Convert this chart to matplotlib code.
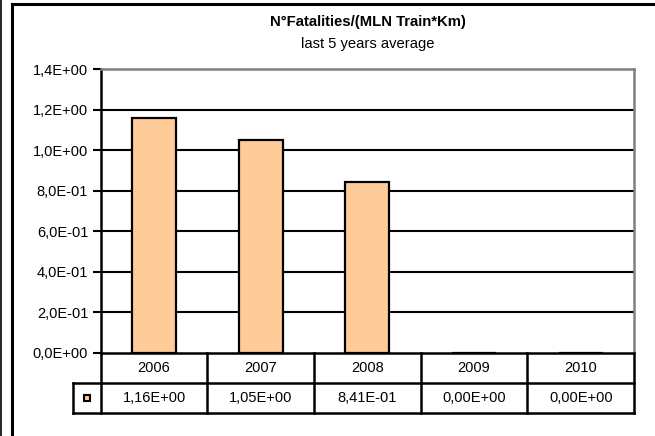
import numpy as np
import matplotlib.pyplot as plt
from matplotlib.lines import Line2D
from matplotlib.patches import Rectangle

plt.rcParams['font.family'] = ['Liberation Sans', 'DejaVu Sans']

years = ['2006', '2007', '2008', '2009', '2010']
values = [1.16, 1.05, 0.841, 0.0, 0.0]
yticks = [0.0, 0.2, 0.4, 0.6, 0.8, 1.0, 1.2, 1.4]

title = 'N°Fatalities/(MLN Train*Km)'
subtitle = 'last 5 years average'

fig = plt.figure(figsize=(6.55, 4.36), dpi=100)
ax = fig.add_axes([0.1537, 0.1904, 0.8143, 0.6513])

x = np.arange(len(years))
ax.bar(x, values, width=0.41, color='#FFCC99', edgecolor='black', linewidth=1.6, zorder=3)

ax.set_xlim(-0.5, len(years) - 0.5)
ax.set_ylim(0, 1.4)
ax.set_yticks(yticks)
ax.set_yticklabels([f'{v:.1E}'.replace('.', ',') for v in yticks], fontsize=10.5)
ax.set_xticks([])
ax.tick_params(axis='y', direction='out', length=6, width=1.5, color='black', pad=3)
for v in yticks[1:-1]:
    ax.axhline(v, color='black', linewidth=1.5, zorder=1)

ax.spines['left'].set_linewidth(1.8)
ax.spines['bottom'].set_linewidth(1.8)
ax.spines['top'].set_color('#808080')
ax.spines['right'].set_color('#808080')
ax.spines['top'].set_linewidth(1.8)
ax.spines['right'].set_linewidth(1.8)

# data table under the plot
row_h = 0.1056
key_x = -0.052
n = len(years)
lw = 1.8
kw = dict(transform=ax.transAxes, color='black', linewidth=lw, clip_on=False)
for i in range(n + 1):
    xv = i / n
    ax.add_line(Line2D([xv, xv], [0, -2 * row_h], **kw))
ax.add_line(Line2D([key_x, key_x], [-row_h, -2 * row_h], **kw))
ax.add_line(Line2D([key_x, 1], [-row_h, -row_h], **kw))
ax.add_line(Line2D([key_x, 1], [-2 * row_h, -2 * row_h], **kw))

for i, (yr, v) in enumerate(zip(years, values)):
    cx = (i + 0.5) / n
    ax.text(cx, -row_h / 2, yr, transform=ax.transAxes, ha='center', va='center', fontsize=10.5)
    ax.text(cx, -1.5 * row_h, f'{v:.2E}'.replace('.', ','), transform=ax.transAxes,
            ha='center', va='center', fontsize=10.5)

ax.add_patch(Rectangle((key_x / 2 - 0.0055, -1.5 * row_h - 0.0115), 0.011, 0.021,
                       transform=ax.transAxes, facecolor='#FFCC99', edgecolor='black',
                       linewidth=1.5, clip_on=False))

fig.text(0.562, 1 - 22 / 436, title, ha='center', va='center', fontsize=10.7, fontweight='bold')
fig.text(0.562, 1 - 44 / 436, subtitle, ha='center', va='center', fontsize=10.6)

# outer chart frame
fig.add_artist(Line2D([11.5 / 655, 11.5 / 655], [0, 1 - 4 / 436], transform=fig.transFigure,
                      color='black', linewidth=2.2))
fig.add_artist(Line2D([11.5 / 655, 1], [1 - 4 / 436, 1 - 4 / 436], transform=fig.transFigure,
                      color='black', linewidth=2.2))
fig.add_artist(Line2D([1 / 655, 1 / 655], [0, 1], transform=fig.transFigure,
                      color='black', linewidth=1.2))

fig.savefig('out.png', dpi=100)
